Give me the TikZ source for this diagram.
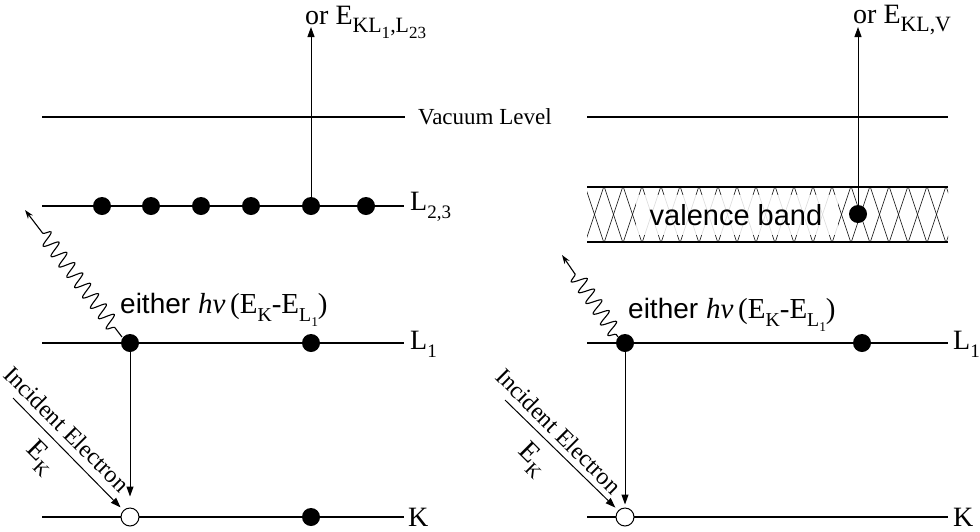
\documentclass[tikz,border=0pt]{standalone}
\usepackage{fontspec}
\setmainfont{Liberation Serif}
\setsansfont{Liberation Sans}
\usetikzlibrary{arrows.meta,decorations.pathmorphing}
\newcommand\mysub[1]{\raisebox{-0.28em}{\scalebox{0.68}{#1}}}
\newcommand\mysubb[1]{\raisebox{-0.3em}{\scalebox{0.78}{#1}}}
\tikzset{
  level/.style={line width=2.9pt},
  edot/.style={circle,fill=black,inner sep=0pt,minimum size=18pt},
  hole/.style={circle,draw,fill=white,inner sep=0pt,minimum size=18pt,line width=1pt},
  arr/.style={-{Triangle[length=10pt,width=7pt]},line width=1pt},
  photon/.style={-{Stealth[length=9pt,width=6pt]},line width=1.1pt,decorate,
     decoration={snake,amplitude=7.5pt,segment length=13pt}},
  lvl/.style={font=\fontsize{28}{28}\selectfont,inner sep=0pt,anchor=west},
  smalltxt/.style={font=\fontsize{24}{24}\selectfont,inner sep=0pt},
  ortxt/.style={font=\fontsize{28}{28}\selectfont,inner sep=0pt,anchor=base west},
  sanstxt/.style={font=\sffamily\fontsize{29}{29}\selectfont,inner sep=0pt},
  hatch/.style={line width=0.6pt}
}
\begin{document}
\begin{tikzpicture}[x=1pt,y=-1pt]
\useasboundingbox (0,0) rectangle (980,531);

% ---------------- left panel levels
\draw[level] (42,117) -- (405,117);
\draw[level] (42,206) -- (404,206);
\draw[level] (42,343) -- (404,343);
\draw[level] (42,517) -- (404,517);
\node[smalltxt,font=\fontsize{23}{23}\selectfont,anchor=west] (vac) at (418,117) {Vacuum Level};
\node[lvl] (l23lab) at (410,207) {L\mysub{2,3}};
\node[lvl] (l1lab) at (410,344) {L\mysub{1}};
\node[lvl,text depth=0pt] (klab) at (408,517) {K};

% ---------------- right panel levels
\draw[level] (587,117) -- (948,117);
\begin{scope}
  \clip (587,187) rectangle (948,242);
  \foreach \x in {547,566,...,965} {
    \draw[hatch] (\x,186) -- (\x+19,243);
    \draw[hatch] (\x+19,186) -- (\x,243);
  }
  \fill[white,opacity=0.85] (636,195) rectangle (838,235);
\end{scope}
\draw[level] (587,187) -- (948,187);
\draw[level] (587,242) -- (948,242);
\node[sanstxt] (vb) at (736,215) {valence band};
\draw[level] (587,343) -- (948,343);
\draw[level] (587,517) -- (948,517);
\node[lvl] (l1labR) at (953,344) {L\mysub{1}};
\node[lvl,text depth=0pt] (klabR) at (953,517) {K};

% ---------------- left electrons
\foreach \n/\x in {a/102,b/151,c/201,d/251,e/311,f/366}
  \node[edot] (L23\n) at (\x,206) {};
\node[edot] (L1a) at (130,343) {};
\node[edot] (L1b) at (311,343) {};
\node[hole] (Kh) at (130,517) {};
\node[edot] (Kb) at (311,517) {};

% ---------------- right electrons
\node[edot] (VB) at (858,214) {};
\node[edot] (RL1a) at (625,343) {};
\node[edot] (RL1b) at (862,343) {};
\node[hole] (RKh) at (625,517) {};

% ---------------- left arrows
\coordinate (topL) at (311,27);
\draw[arr] (L23e) -- (topL);
\node[ortxt] (augL) at (305,24)
  {or E\mysubb{KL\mysubb{1},L\mysubb{23}}};
\draw[arr,shorten >=11pt] (L1a) -- (Kh);
\coordinate (incL) at (13,398);
\draw[arr,shorten >=4pt] (incL) -- (Kh);
\node[smalltxt,rotate=-45] (ieL) at (67,429) {Incident Electron};
\node[lvl,anchor=center,rotate=-45] (ekL) at (40,458) {E\mysub{K}};
\coordinate (phL) at (25,210);
\draw[photon,decoration={pre length=12pt,post length=24pt}] (122,337) -- (phL);
\node[inner sep=0pt,anchor=base west] (hvL) at (120,313)
  {\sffamily\fontsize{28}{28}\selectfont either
   \rmfamily\fontsize{29}{29}\selectfont\textit{hν}\,(E\mysub{K}-E\mysub{L\mysub{1}})};

% ---------------- right arrows
\coordinate (topR) at (858,27);
\draw[arr] (VB) -- (topR);
\node[ortxt] (augR) at (853,23) {or E\mysubb{KL,V}};
\draw[arr,shorten >=3pt] (RL1a) -- (RKh);
\coordinate (incR) at (505,400);
\draw[arr,shorten >=4pt] (incR) -- (RKh);
\node[smalltxt,rotate=-45] (ieR) at (559,431) {Incident Electron};
\node[lvl,anchor=center,rotate=-45] (ekR) at (532,460) {E\mysub{K}};
\coordinate (phR) at (562,255);
\draw[photon,decoration={pre length=3pt,post length=18pt}] (618,337) -- (phR);
\node[inner sep=0pt,anchor=base west] (hvR) at (628,318)
  {\sffamily\fontsize{28}{28}\selectfont either
   \rmfamily\fontsize{29}{29}\selectfont\textit{hν}\,(E\mysub{K}-E\mysub{L\mysub{1}})};
\end{tikzpicture}
\end{document}
